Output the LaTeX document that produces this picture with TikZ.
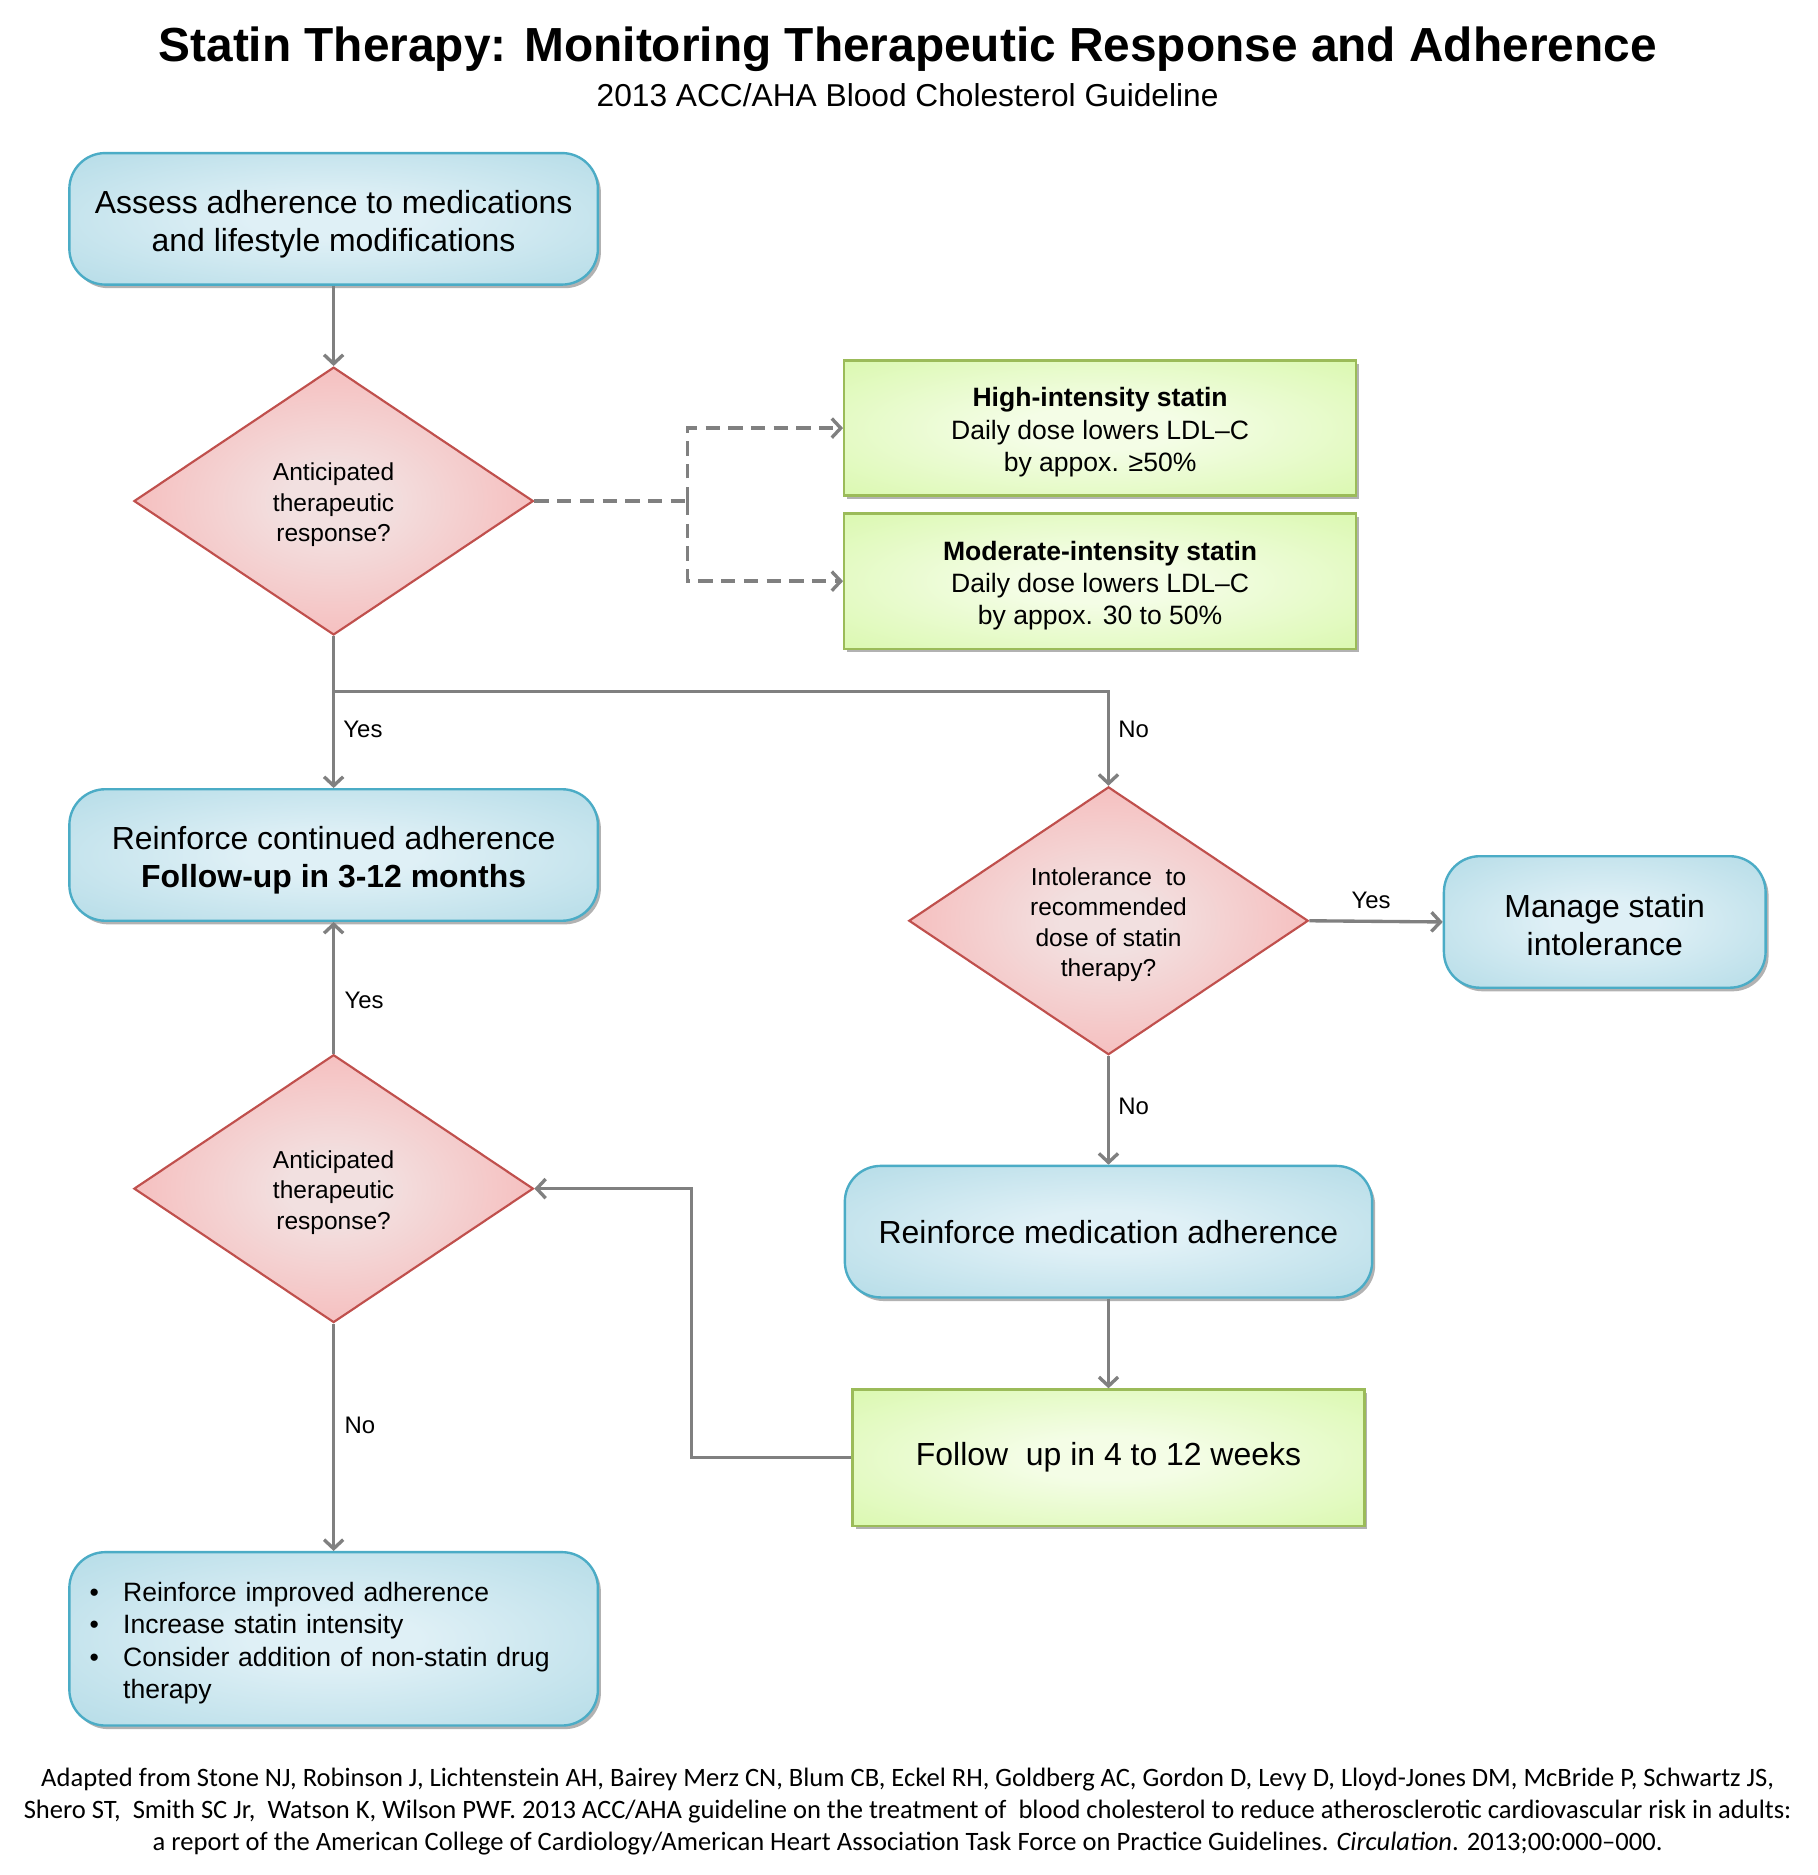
\documentclass[tikz,border=0pt]{standalone}
\usepackage{fontspec}
\setmainfont{Liberation Sans}
\newfontfamily\calib{Carlito}
\usetikzlibrary{shapes.geometric,arrows.meta,shadows}

\definecolor{bIn}{HTML}{DFF0F6}
\definecolor{bOut}{HTML}{A6D5E2}
\definecolor{bLine}{HTML}{4BACC6}
\definecolor{rIn}{HTML}{F2E0E0}
\definecolor{rOut}{HTML}{F9A3A3}
\definecolor{rLine}{HTML}{C0504D}
\definecolor{gIn}{HTML}{F4FDE6}
\definecolor{gOut}{HTML}{D3F7A0}
\definecolor{gLine}{HTML}{9BBB59}
\definecolor{cn}{HTML}{808080}

\pgfdeclareradialshading{blueshade}{\pgfpoint{0bp}{0bp}}{color(0bp)=(bIn); color(8bp)=(bIn); color(46bp)=(bOut); color(80bp)=(bOut)}
\pgfdeclareradialshading{redshade}{\pgfpoint{0bp}{0bp}}{color(0bp)=(rIn); color(6bp)=(rIn); color(42bp)=(rOut); color(80bp)=(rOut)}
\pgfdeclareradialshading{greenshade}{\pgfpoint{0bp}{0bp}}{color(0bp)=(gIn); color(8bp)=(gIn); color(44bp)=(gOut); color(80bp)=(gOut)}

\newcommand\tup{\rule{0pt}{1.05em}}

\tikzset{
  shd/.style={drop shadow={shadow xshift=2.5pt, shadow yshift=-3pt, opacity=0.3, fill=black}},
  bluebox/.style={rectangle, draw=bLine, line width=2pt, rounded corners=30pt, shading=blueshade,
    minimum width=442pt, minimum height=110pt, inner sep=0pt, align=center,
    font=\fontsize{26.7}{32}\selectfont, shd},
  gbox/.style={rectangle, draw=gLine, line width=2pt, shading=greenshade,
    minimum width=428pt, minimum height=113pt, inner sep=0pt, align=center,
    font=\fontsize{22.2}{27}\selectfont, shd},
  dmd/.style={diamond, shape aspect=1.49, draw=rLine, line width=1.8pt, shading=redshade,
    minimum width=334pt, minimum height=224pt, inner sep=0pt, align=center,
    font=\fontsize{20.5}{25.5}\selectfont},
  ln/.style={draw=cn, line width=2.8pt},
  arr/.style={ln, -{Straight Barb[length=7.5pt,width=16pt]}},
  dsh/.style={ln, dash pattern=on 12pt off 7pt, -{Straight Barb[length=7.5pt,width=16pt]}},
  lbl/.style={font=\fontsize{20}{24}\selectfont, anchor=west, inner sep=0pt},
}

\begin{document}
\begin{tikzpicture}[x=1pt,y=-1pt]
\useasboundingbox[fill=white] (0,0) rectangle (1520,1568);

\node[font=\fontsize{40}{46}\bfseries\selectfont] (title) at (759,41) {Statin Therapy: Monitoring Therapeutic Response and Adherence};
\node[font=\fontsize{26.5}{30}\selectfont] (sub) at (759,80) {2013 ACC/AHA Blood Cholesterol Guideline};

\node[bluebox] (b1) at (279,183) {\tup Assess adherence to medications\\and lifestyle modifications};
\node[dmd] (d1) at (279,419) {\tup Anticipated\\therapeutic\\response?};
\node[gbox] (hi) at (920,358) {\tup\textbf{High-intensity statin}\\Daily dose lowers LDL–C\\by appox. ≥50\%};
\node[gbox] (mod) at (920,486) {\tup\textbf{Moderate-intensity statin}\\Daily dose lowers LDL–C\\by appox. 30 to 50\%};
\node[bluebox] (b2) at (279,715) {\tup Reinforce continued adherence\\\textbf{Follow-up in 3-12 months}};
\node[dmd] (d2) at (927,770) {\tup Intolerance~ to\\recommended\\dose of statin\\therapy?};
\node[bluebox, minimum width=269pt] (mg) at (1342,771) {\rule{0pt}{0.9em}Manage statin\\intolerance};
\node[bluebox, minimum width=441pt] (rm) at (927,1030) {Reinforce medication adherence};
\node[gbox, minimum height=114pt, font=\fontsize{26.7}{32}\selectfont] (fu) at (927,1219) {Follow~ up in 4 to 12 weeks};
\node[dmd] (d3) at (279,994) {\tup Anticipated\\therapeutic\\response?};
\node[bluebox, minimum height=145pt, text width=408pt, align=left, font=\fontsize{22.2}{27}\selectfont] (bl) at (279,1370.5)
  {\tup\makebox[28pt][l]{•}Reinforce improved adherence\\
   \makebox[28pt][l]{•}Increase statin intensity\\
   \makebox[28pt][l]{•}Consider addition of non-statin drug\\
   \hspace*{28pt}therapy};

% connectors
\draw[arr] (b1) -- (d1);
\coordinate (j1) at (575,419);
\draw[ln, dash pattern=on 12pt off 7pt] (d1.east) -- (j1);
\draw[dsh] (j1) |- (hi.west);
\draw[dsh] (j1) |- (mod.west);
\coordinate (j2) at (279,578);
\draw[ln] (d1.south) -- (j2);
\draw[arr] (j2) -- (b2.north);
\draw[arr] (j2) -| (d2.north);
\node[lbl] (ly1) at (287,610) {Yes};
\node[lbl] (ln1) at (935,610) {No};
\draw[arr] (d2.east) -- (mg.west);
\node[lbl] (ly2) at (1130,753) {Yes};
\draw[arr] (d2.south) -- (rm.north);
\node[lbl] (ln2) at (935,925) {No};
\draw[arr] (rm.south) -- (fu.north);
\coordinate (j3) at (578,1219);
\draw[arr] (fu.west) -- (j3) |- (d3.east);
\draw[arr] (d3.north) -- (b2.south);
\node[lbl] (ly3) at (288,837) {Yes};
\draw[arr] (d3.south) -- (bl.north);
\node[lbl] (ln3) at (288,1192) {No};

\node[font=\calib\fontsize{22.2}{26.5}\selectfont, align=center] (foot) at (759,1515)
  {Adapted from Stone NJ, Robinson J, Lichtenstein AH, Bairey Merz CN, Blum CB, Eckel RH, Goldberg AC, Gordon D, Levy D, Lloyd-Jones DM, McBride P, Schwartz JS,\\
   Shero ST,~ Smith SC Jr,~ Watson K, Wilson PWF. 2013 ACC/AHA guideline on the treatment of~ blood cholesterol to reduce atherosclerotic cardiovascular risk in adults:\\
   a report of the American College of Cardiology/American Heart Association Task Force on Practice Guidelines. \textit{Circulation}. 2013;00:000–000.};
\end{tikzpicture}
\end{document}
